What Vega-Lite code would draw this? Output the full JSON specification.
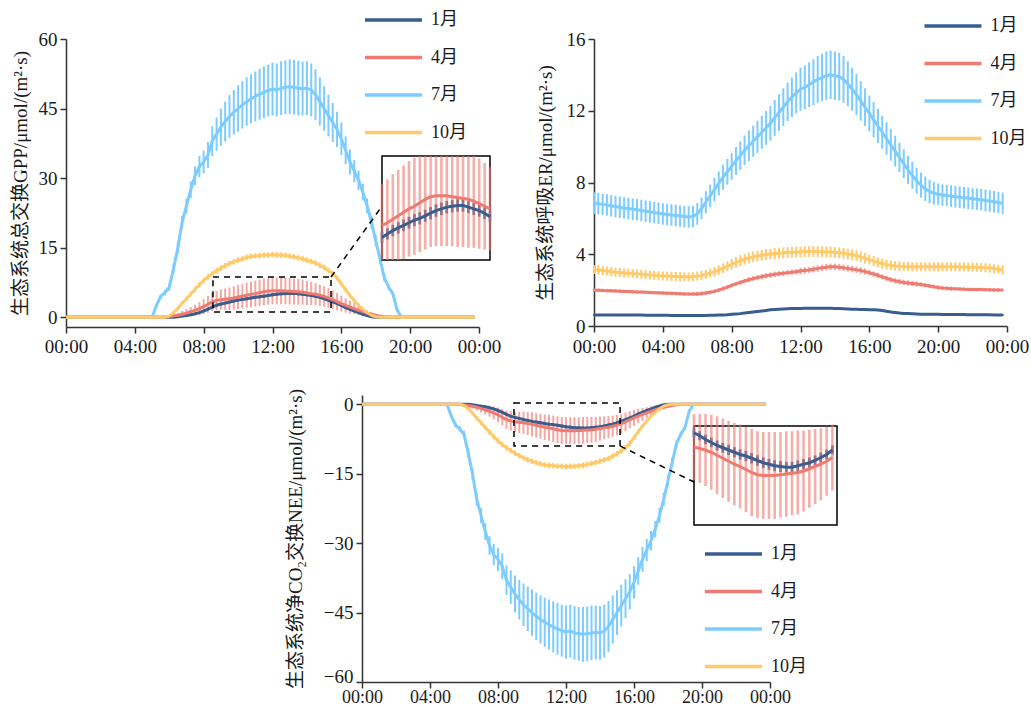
{
"$schema": "https://vega.github.io/schema/vega-lite/v6.json",
"width": 1031, "height": 707, "autosize": {"type": "none"}, "padding": 0, "background": "white",
"config": {
 "view": {"stroke": null},
 "font": "Liberation Serif",
 "axis": {"grid": false, "domainColor": "#333333", "domainWidth": 1.5, "tickColor": "#333333", "tickWidth": 1.5, "tickSize": 6, "labelFont": "Liberation Serif", "labelFontSize": 19, "labelColor": "#1a1a1a", "labelPadding": 3, "labelFlush": false, "labelOverlap": false, "labelBound": false, "titleFont": "Liberation Serif, DejaVu Serif, Noto Sans CJK SC", "titleFontSize": 19, "titleFontWeight": "normal", "titleColor": "#1a1a1a", "titleBaseline": "middle"},
 "legend": {"padding": 0, "symbolType": "M-3,0H3", "symbolSize": 361, "symbolStrokeWidth": 3.5, "symbolOffset": 19, "labelOffset": 26, "labelFont": "Liberation Serif, Noto Sans CJK SC", "labelFontSize": 18, "labelColor": "#1a1a1a", "rowPadding": 16.5, "symbolOpacity": 1}
},
"datasets": {
"gpp": [
{"m":1,"h":0,"v":0,"e":0},{"m":1,"h":6.25,"v":0,"e":0},{"m":1,"h":6.5,"v":0.1,"e":0.05},{"m":1,"h":6.75,"v":0.25,"e":0.1},{"m":1,"h":7,"v":0.4,"e":0.12},{"m":1,"h":7.25,"v":0.55,"e":0.15},{"m":1,"h":7.5,"v":0.75,"e":0.18},{"m":1,"h":7.75,"v":1,"e":0.2},{"m":1,"h":8,"v":1.35,"e":0.22},{"m":1,"h":8.25,"v":1.75,"e":0.25},{"m":1,"h":8.5,"v":2.2,"e":0.28},{"m":1,"h":8.75,"v":2.6,"e":0.3},{"m":1,"h":9,"v":2.85,"e":0.3},{"m":1,"h":9.25,"v":3.05,"e":0.3},{"m":1,"h":9.5,"v":3.3,"e":0.32},{"m":1,"h":9.75,"v":3.5,"e":0.32},{"m":1,"h":10,"v":3.7,"e":0.33},{"m":1,"h":10.25,"v":3.85,"e":0.33},{"m":1,"h":10.5,"v":4,"e":0.34},{"m":1,"h":10.75,"v":4.15,"e":0.34},{"m":1,"h":11,"v":4.3,"e":0.35},{"m":1,"h":11.25,"v":4.4,"e":0.35},{"m":1,"h":11.5,"v":4.55,"e":0.35},{"m":1,"h":11.75,"v":4.7,"e":0.35},{"m":1,"h":12,"v":4.85,"e":0.36},{"m":1,"h":12.25,"v":4.95,"e":0.36},{"m":1,"h":12.5,"v":5.05,"e":0.36},{"m":1,"h":12.75,"v":5.1,"e":0.36},{"m":1,"h":13,"v":5.15,"e":0.36},{"m":1,"h":13.25,"v":5.15,"e":0.36},{"m":1,"h":13.5,"v":5.05,"e":0.35},{"m":1,"h":13.75,"v":4.95,"e":0.35},{"m":1,"h":14,"v":4.85,"e":0.35},{"m":1,"h":14.25,"v":4.7,"e":0.34},{"m":1,"h":14.5,"v":4.5,"e":0.33},{"m":1,"h":14.75,"v":4.3,"e":0.32},{"m":1,"h":15,"v":4,"e":0.3},{"m":1,"h":15.25,"v":3.65,"e":0.28},{"m":1,"h":15.5,"v":3.3,"e":0.26},{"m":1,"h":15.75,"v":2.95,"e":0.24},{"m":1,"h":16,"v":2.55,"e":0.22},{"m":1,"h":16.25,"v":2.1,"e":0.2},{"m":1,"h":16.5,"v":1.7,"e":0.17},{"m":1,"h":16.75,"v":1.35,"e":0.14},{"m":1,"h":17,"v":1,"e":0.12},{"m":1,"h":17.25,"v":0.65,"e":0.1},{"m":1,"h":17.5,"v":0.35,"e":0.06},{"m":1,"h":17.75,"v":0.12,"e":0.03},{"m":1,"h":18,"v":0,"e":0},{"m":1,"h":23.75,"v":0,"e":0},
{"m":4,"h":0,"v":0,"e":0},{"m":4,"h":5.5,"v":0,"e":0},{"m":4,"h":5.75,"v":0.05,"e":0.05},{"m":4,"h":6,"v":0.15,"e":0.2},{"m":4,"h":6.25,"v":0.3,"e":0.35},{"m":4,"h":6.5,"v":0.45,"e":0.5},{"m":4,"h":6.75,"v":0.65,"e":0.7},{"m":4,"h":7,"v":0.9,"e":0.85},{"m":4,"h":7.25,"v":1.2,"e":1},{"m":4,"h":7.5,"v":1.5,"e":1.2},{"m":4,"h":7.75,"v":1.85,"e":1.4},{"m":4,"h":8,"v":2.3,"e":1.6},{"m":4,"h":8.25,"v":2.8,"e":1.8},{"m":4,"h":8.5,"v":3.3,"e":2},{"m":4,"h":8.75,"v":3.6,"e":2.1},{"m":4,"h":9,"v":3.8,"e":2.2},{"m":4,"h":9.25,"v":3.9,"e":2.3},{"m":4,"h":9.5,"v":4,"e":2.4},{"m":4,"h":9.75,"v":4.15,"e":2.5},{"m":4,"h":10,"v":4.35,"e":2.6},{"m":4,"h":10.25,"v":4.55,"e":2.65},{"m":4,"h":10.5,"v":4.75,"e":2.7},{"m":4,"h":10.75,"v":4.95,"e":2.75},{"m":4,"h":11,"v":5.1,"e":2.8},{"m":4,"h":11.25,"v":5.3,"e":2.85},{"m":4,"h":11.5,"v":5.5,"e":2.9},{"m":4,"h":11.75,"v":5.65,"e":2.9},{"m":4,"h":12,"v":5.7,"e":2.9},{"m":4,"h":12.25,"v":5.7,"e":2.9},{"m":4,"h":12.5,"v":5.7,"e":2.9},{"m":4,"h":12.75,"v":5.65,"e":2.85},{"m":4,"h":13,"v":5.6,"e":2.85},{"m":4,"h":13.25,"v":5.55,"e":2.8},{"m":4,"h":13.5,"v":5.5,"e":2.8},{"m":4,"h":13.75,"v":5.4,"e":2.7},{"m":4,"h":14,"v":5.25,"e":2.6},{"m":4,"h":14.25,"v":5.1,"e":2.5},{"m":4,"h":14.5,"v":4.95,"e":2.4},{"m":4,"h":14.75,"v":4.75,"e":2.3},{"m":4,"h":15,"v":4.5,"e":2.2},{"m":4,"h":15.25,"v":4.2,"e":2.1},{"m":4,"h":15.5,"v":3.8,"e":2},{"m":4,"h":15.75,"v":3.35,"e":1.85},{"m":4,"h":16,"v":2.95,"e":1.7},{"m":4,"h":16.25,"v":2.55,"e":1.55},{"m":4,"h":16.5,"v":2.2,"e":1.4},{"m":4,"h":16.75,"v":1.85,"e":1.2},{"m":4,"h":17,"v":1.5,"e":1},{"m":4,"h":17.25,"v":1.2,"e":0.8},{"m":4,"h":17.5,"v":0.9,"e":0.6},{"m":4,"h":17.75,"v":0.65,"e":0.45},{"m":4,"h":18,"v":0.45,"e":0.3},{"m":4,"h":18.25,"v":0.25,"e":0.2},{"m":4,"h":18.5,"v":0.12,"e":0.1},{"m":4,"h":18.75,"v":0.05,"e":0.05},{"m":4,"h":19,"v":0,"e":0},{"m":4,"h":23.75,"v":0,"e":0},
{"m":7,"h":0,"v":0,"e":0},{"m":7,"h":5,"v":0,"e":0},{"m":7,"h":5.25,"v":2.5,"e":0.3},{"m":7,"h":5.5,"v":4.5,"e":0.5},{"m":7,"h":5.75,"v":5.3,"e":0.6},{"m":7,"h":6,"v":6.5,"e":0.8},{"m":7,"h":6.25,"v":10.5,"e":1},{"m":7,"h":6.5,"v":15,"e":1.2},{"m":7,"h":6.75,"v":20.5,"e":1.4},{"m":7,"h":7,"v":24,"e":1.6},{"m":7,"h":7.25,"v":27.5,"e":1.8},{"m":7,"h":7.5,"v":30.5,"e":2},{"m":7,"h":7.75,"v":32.5,"e":2.3},{"m":7,"h":8,"v":33.5,"e":2.5},{"m":7,"h":8.25,"v":35,"e":2.8},{"m":7,"h":8.5,"v":38,"e":3.2},{"m":7,"h":8.75,"v":39.5,"e":3.6},{"m":7,"h":9,"v":41,"e":4},{"m":7,"h":9.25,"v":42.2,"e":4.3},{"m":7,"h":9.5,"v":43.3,"e":4.6},{"m":7,"h":9.75,"v":44.2,"e":4.8},{"m":7,"h":10,"v":45,"e":5},{"m":7,"h":10.25,"v":45.8,"e":5.1},{"m":7,"h":10.5,"v":46.5,"e":5.2},{"m":7,"h":10.75,"v":47.1,"e":5.3},{"m":7,"h":11,"v":47.6,"e":5.4},{"m":7,"h":11.25,"v":48.1,"e":5.5},{"m":7,"h":11.5,"v":48.5,"e":5.6},{"m":7,"h":11.75,"v":48.9,"e":5.6},{"m":7,"h":12,"v":49.2,"e":5.7},{"m":7,"h":12.25,"v":49,"e":5.7},{"m":7,"h":12.5,"v":49.4,"e":5.8},{"m":7,"h":12.75,"v":49.6,"e":5.8},{"m":7,"h":13,"v":49.7,"e":5.9},{"m":7,"h":13.25,"v":49.6,"e":5.9},{"m":7,"h":13.5,"v":49.4,"e":5.9},{"m":7,"h":13.75,"v":49.3,"e":5.8},{"m":7,"h":14,"v":49.4,"e":5.8},{"m":7,"h":14.25,"v":49,"e":5.7},{"m":7,"h":14.5,"v":48,"e":5.5},{"m":7,"h":14.75,"v":46.5,"e":5.2},{"m":7,"h":15,"v":45,"e":4.8},{"m":7,"h":15.25,"v":43.5,"e":4.5},{"m":7,"h":15.5,"v":42,"e":4.2},{"m":7,"h":15.75,"v":40.5,"e":3.8},{"m":7,"h":16,"v":38.5,"e":3.5},{"m":7,"h":16.25,"v":36,"e":3},{"m":7,"h":16.5,"v":33.5,"e":2.7},{"m":7,"h":16.75,"v":31.5,"e":2.4},{"m":7,"h":17,"v":29.5,"e":2.1},{"m":7,"h":17.25,"v":27,"e":1.8},{"m":7,"h":17.5,"v":24,"e":1.6},{"m":7,"h":17.75,"v":20.5,"e":1.4},{"m":7,"h":18,"v":16.5,"e":1.2},{"m":7,"h":18.25,"v":12.5,"e":1},{"m":7,"h":18.5,"v":8.5,"e":0.8},{"m":7,"h":18.75,"v":6.5,"e":0.6},{"m":7,"h":19,"v":5,"e":0.5},{"m":7,"h":19.25,"v":1.5,"e":0.2},{"m":7,"h":19.5,"v":0,"e":0},{"m":7,"h":23.75,"v":0,"e":0},
{"m":10,"h":0,"v":0,"e":0},{"m":10,"h":5.75,"v":0,"e":0},{"m":10,"h":6,"v":0.3,"e":0.2},{"m":10,"h":6.25,"v":1,"e":0.3},{"m":10,"h":6.5,"v":1.9,"e":0.4},{"m":10,"h":6.75,"v":3,"e":0.45},{"m":10,"h":7,"v":4,"e":0.5},{"m":10,"h":7.25,"v":5,"e":0.55},{"m":10,"h":7.5,"v":6,"e":0.6},{"m":10,"h":7.75,"v":7,"e":0.6},{"m":10,"h":8,"v":7.9,"e":0.6},{"m":10,"h":8.25,"v":8.7,"e":0.6},{"m":10,"h":8.5,"v":9.4,"e":0.6},{"m":10,"h":8.75,"v":10,"e":0.6},{"m":10,"h":9,"v":10.6,"e":0.6},{"m":10,"h":9.25,"v":11.1,"e":0.6},{"m":10,"h":9.5,"v":11.6,"e":0.6},{"m":10,"h":9.75,"v":12,"e":0.6},{"m":10,"h":10,"v":12.3,"e":0.6},{"m":10,"h":10.25,"v":12.6,"e":0.6},{"m":10,"h":10.5,"v":12.9,"e":0.6},{"m":10,"h":10.75,"v":13.1,"e":0.6},{"m":10,"h":11,"v":13.2,"e":0.6},{"m":10,"h":11.25,"v":13.3,"e":0.6},{"m":10,"h":11.5,"v":13.4,"e":0.6},{"m":10,"h":11.75,"v":13.4,"e":0.6},{"m":10,"h":12,"v":13.5,"e":0.6},{"m":10,"h":12.25,"v":13.4,"e":0.6},{"m":10,"h":12.5,"v":13.4,"e":0.6},{"m":10,"h":12.75,"v":13.3,"e":0.6},{"m":10,"h":13,"v":13.2,"e":0.6},{"m":10,"h":13.25,"v":13,"e":0.6},{"m":10,"h":13.5,"v":12.8,"e":0.6},{"m":10,"h":13.75,"v":12.6,"e":0.6},{"m":10,"h":14,"v":12.3,"e":0.6},{"m":10,"h":14.25,"v":12,"e":0.6},{"m":10,"h":14.5,"v":11.7,"e":0.6},{"m":10,"h":14.75,"v":11.2,"e":0.6},{"m":10,"h":15,"v":10.7,"e":0.6},{"m":10,"h":15.25,"v":10.1,"e":0.6},{"m":10,"h":15.5,"v":9.4,"e":0.6},{"m":10,"h":15.75,"v":8.5,"e":0.55},{"m":10,"h":16,"v":7.2,"e":0.5},{"m":10,"h":16.25,"v":5.9,"e":0.5},{"m":10,"h":16.5,"v":4.7,"e":0.45},{"m":10,"h":16.75,"v":3.6,"e":0.4},{"m":10,"h":17,"v":2.6,"e":0.35},{"m":10,"h":17.25,"v":1.7,"e":0.3},{"m":10,"h":17.5,"v":1,"e":0.25},{"m":10,"h":17.75,"v":0.4,"e":0.2},{"m":10,"h":18,"v":0.1,"e":0.1},{"m":10,"h":18.25,"v":0,"e":0},{"m":10,"h":23.75,"v":0,"e":0}
],
"nee": [
{"m":1,"h":0,"v":0,"e":0},{"m":1,"h":6.25,"v":0,"e":0},{"m":1,"h":6.5,"v":-0.1,"e":0.05},{"m":1,"h":6.75,"v":-0.25,"e":0.1},{"m":1,"h":7,"v":-0.4,"e":0.12},{"m":1,"h":7.25,"v":-0.55,"e":0.15},{"m":1,"h":7.5,"v":-0.75,"e":0.18},{"m":1,"h":7.75,"v":-1,"e":0.2},{"m":1,"h":8,"v":-1.35,"e":0.22},{"m":1,"h":8.25,"v":-1.75,"e":0.25},{"m":1,"h":8.5,"v":-2.2,"e":0.28},{"m":1,"h":8.75,"v":-2.6,"e":0.3},{"m":1,"h":9,"v":-2.85,"e":0.3},{"m":1,"h":9.25,"v":-3.05,"e":0.3},{"m":1,"h":9.5,"v":-3.3,"e":0.32},{"m":1,"h":9.75,"v":-3.5,"e":0.32},{"m":1,"h":10,"v":-3.7,"e":0.33},{"m":1,"h":10.25,"v":-3.85,"e":0.33},{"m":1,"h":10.5,"v":-4,"e":0.34},{"m":1,"h":10.75,"v":-4.15,"e":0.34},{"m":1,"h":11,"v":-4.3,"e":0.35},{"m":1,"h":11.25,"v":-4.4,"e":0.35},{"m":1,"h":11.5,"v":-4.55,"e":0.35},{"m":1,"h":11.75,"v":-4.7,"e":0.35},{"m":1,"h":12,"v":-4.85,"e":0.36},{"m":1,"h":12.25,"v":-4.95,"e":0.36},{"m":1,"h":12.5,"v":-5.05,"e":0.36},{"m":1,"h":12.75,"v":-5.1,"e":0.36},{"m":1,"h":13,"v":-5.15,"e":0.36},{"m":1,"h":13.25,"v":-5.15,"e":0.36},{"m":1,"h":13.5,"v":-5.05,"e":0.35},{"m":1,"h":13.75,"v":-4.95,"e":0.35},{"m":1,"h":14,"v":-4.85,"e":0.35},{"m":1,"h":14.25,"v":-4.7,"e":0.34},{"m":1,"h":14.5,"v":-4.5,"e":0.33},{"m":1,"h":14.75,"v":-4.3,"e":0.32},{"m":1,"h":15,"v":-4,"e":0.3},{"m":1,"h":15.25,"v":-3.65,"e":0.28},{"m":1,"h":15.5,"v":-3.3,"e":0.26},{"m":1,"h":15.75,"v":-2.95,"e":0.24},{"m":1,"h":16,"v":-2.55,"e":0.22},{"m":1,"h":16.25,"v":-2.1,"e":0.2},{"m":1,"h":16.5,"v":-1.7,"e":0.17},{"m":1,"h":16.75,"v":-1.35,"e":0.14},{"m":1,"h":17,"v":-1,"e":0.12},{"m":1,"h":17.25,"v":-0.65,"e":0.1},{"m":1,"h":17.5,"v":-0.35,"e":0.06},{"m":1,"h":17.75,"v":-0.12,"e":0.03},{"m":1,"h":18,"v":0,"e":0},{"m":1,"h":23.75,"v":0,"e":0},
{"m":4,"h":0,"v":0,"e":0},{"m":4,"h":5.5,"v":0,"e":0},{"m":4,"h":5.75,"v":-0.05,"e":0.05},{"m":4,"h":6,"v":-0.15,"e":0.2},{"m":4,"h":6.25,"v":-0.3,"e":0.35},{"m":4,"h":6.5,"v":-0.45,"e":0.5},{"m":4,"h":6.75,"v":-0.65,"e":0.7},{"m":4,"h":7,"v":-0.9,"e":0.85},{"m":4,"h":7.25,"v":-1.2,"e":1},{"m":4,"h":7.5,"v":-1.5,"e":1.2},{"m":4,"h":7.75,"v":-1.85,"e":1.4},{"m":4,"h":8,"v":-2.3,"e":1.6},{"m":4,"h":8.25,"v":-2.8,"e":1.8},{"m":4,"h":8.5,"v":-3.3,"e":2},{"m":4,"h":8.75,"v":-3.6,"e":2.1},{"m":4,"h":9,"v":-3.8,"e":2.2},{"m":4,"h":9.25,"v":-3.9,"e":2.3},{"m":4,"h":9.5,"v":-4,"e":2.4},{"m":4,"h":9.75,"v":-4.15,"e":2.5},{"m":4,"h":10,"v":-4.35,"e":2.6},{"m":4,"h":10.25,"v":-4.55,"e":2.65},{"m":4,"h":10.5,"v":-4.75,"e":2.7},{"m":4,"h":10.75,"v":-4.95,"e":2.75},{"m":4,"h":11,"v":-5.1,"e":2.8},{"m":4,"h":11.25,"v":-5.3,"e":2.85},{"m":4,"h":11.5,"v":-5.5,"e":2.9},{"m":4,"h":11.75,"v":-5.65,"e":2.9},{"m":4,"h":12,"v":-5.7,"e":2.9},{"m":4,"h":12.25,"v":-5.7,"e":2.9},{"m":4,"h":12.5,"v":-5.7,"e":2.9},{"m":4,"h":12.75,"v":-5.65,"e":2.85},{"m":4,"h":13,"v":-5.6,"e":2.85},{"m":4,"h":13.25,"v":-5.55,"e":2.8},{"m":4,"h":13.5,"v":-5.5,"e":2.8},{"m":4,"h":13.75,"v":-5.4,"e":2.7},{"m":4,"h":14,"v":-5.25,"e":2.6},{"m":4,"h":14.25,"v":-5.1,"e":2.5},{"m":4,"h":14.5,"v":-4.95,"e":2.4},{"m":4,"h":14.75,"v":-4.75,"e":2.3},{"m":4,"h":15,"v":-4.5,"e":2.2},{"m":4,"h":15.25,"v":-4.2,"e":2.1},{"m":4,"h":15.5,"v":-3.8,"e":2},{"m":4,"h":15.75,"v":-3.35,"e":1.85},{"m":4,"h":16,"v":-2.95,"e":1.7},{"m":4,"h":16.25,"v":-2.55,"e":1.55},{"m":4,"h":16.5,"v":-2.2,"e":1.4},{"m":4,"h":16.75,"v":-1.85,"e":1.2},{"m":4,"h":17,"v":-1.5,"e":1},{"m":4,"h":17.25,"v":-1.2,"e":0.8},{"m":4,"h":17.5,"v":-0.9,"e":0.6},{"m":4,"h":17.75,"v":-0.65,"e":0.45},{"m":4,"h":18,"v":-0.45,"e":0.3},{"m":4,"h":18.25,"v":-0.25,"e":0.2},{"m":4,"h":18.5,"v":-0.12,"e":0.1},{"m":4,"h":18.75,"v":-0.05,"e":0.05},{"m":4,"h":19,"v":0,"e":0},{"m":4,"h":23.75,"v":0,"e":0},
{"m":7,"h":0,"v":0,"e":0},{"m":7,"h":5,"v":0,"e":0},{"m":7,"h":5.25,"v":-2.5,"e":0.3},{"m":7,"h":5.5,"v":-4.5,"e":0.5},{"m":7,"h":5.75,"v":-5.3,"e":0.6},{"m":7,"h":6,"v":-6.5,"e":0.8},{"m":7,"h":6.25,"v":-10.5,"e":1},{"m":7,"h":6.5,"v":-15,"e":1.2},{"m":7,"h":6.75,"v":-20.5,"e":1.4},{"m":7,"h":7,"v":-24,"e":1.6},{"m":7,"h":7.25,"v":-27.5,"e":1.8},{"m":7,"h":7.5,"v":-30.5,"e":2},{"m":7,"h":7.75,"v":-32.5,"e":2.3},{"m":7,"h":8,"v":-33.5,"e":2.5},{"m":7,"h":8.25,"v":-35,"e":2.8},{"m":7,"h":8.5,"v":-38,"e":3.2},{"m":7,"h":8.75,"v":-39.5,"e":3.6},{"m":7,"h":9,"v":-41,"e":4},{"m":7,"h":9.25,"v":-42.2,"e":4.3},{"m":7,"h":9.5,"v":-43.3,"e":4.6},{"m":7,"h":9.75,"v":-44.2,"e":4.8},{"m":7,"h":10,"v":-45,"e":5},{"m":7,"h":10.25,"v":-45.8,"e":5.1},{"m":7,"h":10.5,"v":-46.5,"e":5.2},{"m":7,"h":10.75,"v":-47.1,"e":5.3},{"m":7,"h":11,"v":-47.6,"e":5.4},{"m":7,"h":11.25,"v":-48.1,"e":5.5},{"m":7,"h":11.5,"v":-48.5,"e":5.6},{"m":7,"h":11.75,"v":-48.9,"e":5.6},{"m":7,"h":12,"v":-49.2,"e":5.7},{"m":7,"h":12.25,"v":-49,"e":5.7},{"m":7,"h":12.5,"v":-49.4,"e":5.8},{"m":7,"h":12.75,"v":-49.6,"e":5.8},{"m":7,"h":13,"v":-49.7,"e":5.9},{"m":7,"h":13.25,"v":-49.6,"e":5.9},{"m":7,"h":13.5,"v":-49.4,"e":5.9},{"m":7,"h":13.75,"v":-49.3,"e":5.8},{"m":7,"h":14,"v":-49.4,"e":5.8},{"m":7,"h":14.25,"v":-49,"e":5.7},{"m":7,"h":14.5,"v":-48,"e":5.5},{"m":7,"h":14.75,"v":-46.5,"e":5.2},{"m":7,"h":15,"v":-45,"e":4.8},{"m":7,"h":15.25,"v":-43.5,"e":4.5},{"m":7,"h":15.5,"v":-42,"e":4.2},{"m":7,"h":15.75,"v":-40.5,"e":3.8},{"m":7,"h":16,"v":-38.5,"e":3.5},{"m":7,"h":16.25,"v":-36,"e":3},{"m":7,"h":16.5,"v":-33.5,"e":2.7},{"m":7,"h":16.75,"v":-31.5,"e":2.4},{"m":7,"h":17,"v":-29.5,"e":2.1},{"m":7,"h":17.25,"v":-27,"e":1.8},{"m":7,"h":17.5,"v":-24,"e":1.6},{"m":7,"h":17.75,"v":-20.5,"e":1.4},{"m":7,"h":18,"v":-16.5,"e":1.2},{"m":7,"h":18.25,"v":-12.5,"e":1},{"m":7,"h":18.5,"v":-8.5,"e":0.8},{"m":7,"h":18.75,"v":-6.5,"e":0.6},{"m":7,"h":19,"v":-5,"e":0.5},{"m":7,"h":19.25,"v":-1.5,"e":0.2},{"m":7,"h":19.5,"v":0,"e":0},{"m":7,"h":23.75,"v":0,"e":0},
{"m":10,"h":0,"v":0,"e":0},{"m":10,"h":5.75,"v":0,"e":0},{"m":10,"h":6,"v":-0.3,"e":0.2},{"m":10,"h":6.25,"v":-1,"e":0.3},{"m":10,"h":6.5,"v":-1.9,"e":0.4},{"m":10,"h":6.75,"v":-3,"e":0.45},{"m":10,"h":7,"v":-4,"e":0.5},{"m":10,"h":7.25,"v":-5,"e":0.55},{"m":10,"h":7.5,"v":-6,"e":0.6},{"m":10,"h":7.75,"v":-7,"e":0.6},{"m":10,"h":8,"v":-7.9,"e":0.6},{"m":10,"h":8.25,"v":-8.7,"e":0.6},{"m":10,"h":8.5,"v":-9.4,"e":0.6},{"m":10,"h":8.75,"v":-10,"e":0.6},{"m":10,"h":9,"v":-10.6,"e":0.6},{"m":10,"h":9.25,"v":-11.1,"e":0.6},{"m":10,"h":9.5,"v":-11.6,"e":0.6},{"m":10,"h":9.75,"v":-12,"e":0.6},{"m":10,"h":10,"v":-12.3,"e":0.6},{"m":10,"h":10.25,"v":-12.6,"e":0.6},{"m":10,"h":10.5,"v":-12.9,"e":0.6},{"m":10,"h":10.75,"v":-13.1,"e":0.6},{"m":10,"h":11,"v":-13.2,"e":0.6},{"m":10,"h":11.25,"v":-13.3,"e":0.6},{"m":10,"h":11.5,"v":-13.4,"e":0.6},{"m":10,"h":11.75,"v":-13.4,"e":0.6},{"m":10,"h":12,"v":-13.5,"e":0.6},{"m":10,"h":12.25,"v":-13.4,"e":0.6},{"m":10,"h":12.5,"v":-13.4,"e":0.6},{"m":10,"h":12.75,"v":-13.3,"e":0.6},{"m":10,"h":13,"v":-13.2,"e":0.6},{"m":10,"h":13.25,"v":-13,"e":0.6},{"m":10,"h":13.5,"v":-12.8,"e":0.6},{"m":10,"h":13.75,"v":-12.6,"e":0.6},{"m":10,"h":14,"v":-12.3,"e":0.6},{"m":10,"h":14.25,"v":-12,"e":0.6},{"m":10,"h":14.5,"v":-11.7,"e":0.6},{"m":10,"h":14.75,"v":-11.2,"e":0.6},{"m":10,"h":15,"v":-10.7,"e":0.6},{"m":10,"h":15.25,"v":-10.1,"e":0.6},{"m":10,"h":15.5,"v":-9.4,"e":0.6},{"m":10,"h":15.75,"v":-8.5,"e":0.55},{"m":10,"h":16,"v":-7.2,"e":0.5},{"m":10,"h":16.25,"v":-5.9,"e":0.5},{"m":10,"h":16.5,"v":-4.7,"e":0.45},{"m":10,"h":16.75,"v":-3.6,"e":0.4},{"m":10,"h":17,"v":-2.6,"e":0.35},{"m":10,"h":17.25,"v":-1.7,"e":0.3},{"m":10,"h":17.5,"v":-1,"e":0.25},{"m":10,"h":17.75,"v":-0.4,"e":0.2},{"m":10,"h":18,"v":-0.1,"e":0.1},{"m":10,"h":18.25,"v":0,"e":0},{"m":10,"h":23.75,"v":0,"e":0}
],
"er": [
{"m":1,"h":0,"v":0.62,"e":0.05},{"m":1,"h":0.25,"v":0.62,"e":0.05},{"m":1,"h":0.5,"v":0.62,"e":0.05},{"m":1,"h":0.75,"v":0.62,"e":0.05},{"m":1,"h":1,"v":0.62,"e":0.05},{"m":1,"h":1.25,"v":0.62,"e":0.05},{"m":1,"h":1.5,"v":0.61,"e":0.05},{"m":1,"h":1.75,"v":0.61,"e":0.05},{"m":1,"h":2,"v":0.61,"e":0.05},{"m":1,"h":2.25,"v":0.61,"e":0.05},{"m":1,"h":2.5,"v":0.61,"e":0.05},{"m":1,"h":2.75,"v":0.61,"e":0.05},{"m":1,"h":3,"v":0.6,"e":0.05},{"m":1,"h":3.25,"v":0.6,"e":0.05},{"m":1,"h":3.5,"v":0.6,"e":0.05},{"m":1,"h":3.75,"v":0.6,"e":0.05},{"m":1,"h":4,"v":0.6,"e":0.05},{"m":1,"h":4.25,"v":0.6,"e":0.05},{"m":1,"h":4.5,"v":0.59,"e":0.05},{"m":1,"h":4.75,"v":0.59,"e":0.05},{"m":1,"h":5,"v":0.59,"e":0.05},{"m":1,"h":5.25,"v":0.59,"e":0.05},{"m":1,"h":5.5,"v":0.59,"e":0.05},{"m":1,"h":5.75,"v":0.59,"e":0.05},{"m":1,"h":6,"v":0.59,"e":0.05},{"m":1,"h":6.25,"v":0.59,"e":0.05},{"m":1,"h":6.5,"v":0.59,"e":0.05},{"m":1,"h":6.75,"v":0.6,"e":0.05},{"m":1,"h":7,"v":0.6,"e":0.05},{"m":1,"h":7.25,"v":0.61,"e":0.05},{"m":1,"h":7.5,"v":0.62,"e":0.05},{"m":1,"h":7.75,"v":0.63,"e":0.05},{"m":1,"h":8,"v":0.65,"e":0.05},{"m":1,"h":8.25,"v":0.67,"e":0.05},{"m":1,"h":8.5,"v":0.69,"e":0.05},{"m":1,"h":8.75,"v":0.72,"e":0.05},{"m":1,"h":9,"v":0.75,"e":0.05},{"m":1,"h":9.25,"v":0.78,"e":0.05},{"m":1,"h":9.5,"v":0.81,"e":0.05},{"m":1,"h":9.75,"v":0.84,"e":0.05},{"m":1,"h":10,"v":0.87,"e":0.05},{"m":1,"h":10.25,"v":0.9,"e":0.05},{"m":1,"h":10.5,"v":0.92,"e":0.05},{"m":1,"h":10.75,"v":0.94,"e":0.05},{"m":1,"h":11,"v":0.95,"e":0.05},{"m":1,"h":11.25,"v":0.96,"e":0.05},{"m":1,"h":11.5,"v":0.97,"e":0.05},{"m":1,"h":11.75,"v":0.98,"e":0.05},{"m":1,"h":12,"v":0.98,"e":0.05},{"m":1,"h":12.25,"v":0.99,"e":0.05},{"m":1,"h":12.5,"v":0.99,"e":0.05},{"m":1,"h":12.75,"v":0.99,"e":0.05},{"m":1,"h":13,"v":0.99,"e":0.05},{"m":1,"h":13.25,"v":0.99,"e":0.05},{"m":1,"h":13.5,"v":0.99,"e":0.05},{"m":1,"h":13.75,"v":0.99,"e":0.05},{"m":1,"h":14,"v":0.98,"e":0.05},{"m":1,"h":14.25,"v":0.97,"e":0.05},{"m":1,"h":14.5,"v":0.96,"e":0.05},{"m":1,"h":14.75,"v":0.95,"e":0.05},{"m":1,"h":15,"v":0.94,"e":0.05},{"m":1,"h":15.25,"v":0.93,"e":0.05},{"m":1,"h":15.5,"v":0.92,"e":0.05},{"m":1,"h":15.75,"v":0.92,"e":0.05},{"m":1,"h":16,"v":0.91,"e":0.05},{"m":1,"h":16.25,"v":0.9,"e":0.05},{"m":1,"h":16.5,"v":0.89,"e":0.05},{"m":1,"h":16.75,"v":0.86,"e":0.05},{"m":1,"h":17,"v":0.82,"e":0.05},{"m":1,"h":17.25,"v":0.78,"e":0.05},{"m":1,"h":17.5,"v":0.75,"e":0.05},{"m":1,"h":17.75,"v":0.72,"e":0.05},{"m":1,"h":18,"v":0.7,"e":0.05},{"m":1,"h":18.25,"v":0.69,"e":0.05},{"m":1,"h":18.5,"v":0.68,"e":0.05},{"m":1,"h":18.75,"v":0.67,"e":0.05},{"m":1,"h":19,"v":0.66,"e":0.05},{"m":1,"h":19.25,"v":0.66,"e":0.05},{"m":1,"h":19.5,"v":0.65,"e":0.05},{"m":1,"h":19.75,"v":0.65,"e":0.05},{"m":1,"h":20,"v":0.65,"e":0.05},{"m":1,"h":20.25,"v":0.64,"e":0.05},{"m":1,"h":20.5,"v":0.64,"e":0.05},{"m":1,"h":20.75,"v":0.64,"e":0.05},{"m":1,"h":21,"v":0.64,"e":0.05},{"m":1,"h":21.25,"v":0.64,"e":0.05},{"m":1,"h":21.5,"v":0.64,"e":0.05},{"m":1,"h":21.75,"v":0.63,"e":0.05},{"m":1,"h":22,"v":0.63,"e":0.05},{"m":1,"h":22.25,"v":0.63,"e":0.05},{"m":1,"h":22.5,"v":0.63,"e":0.05},{"m":1,"h":22.75,"v":0.63,"e":0.05},{"m":1,"h":23,"v":0.63,"e":0.05},{"m":1,"h":23.25,"v":0.62,"e":0.05},{"m":1,"h":23.5,"v":0.62,"e":0.05},{"m":1,"h":23.75,"v":0.62,"e":0.05},
{"m":4,"h":0,"v":2,"e":0.1},{"m":4,"h":0.25,"v":1.99,"e":0.1},{"m":4,"h":0.5,"v":1.98,"e":0.1},{"m":4,"h":0.75,"v":1.97,"e":0.1},{"m":4,"h":1,"v":1.96,"e":0.1},{"m":4,"h":1.25,"v":1.95,"e":0.1},{"m":4,"h":1.5,"v":1.94,"e":0.1},{"m":4,"h":1.75,"v":1.93,"e":0.1},{"m":4,"h":2,"v":1.92,"e":0.1},{"m":4,"h":2.25,"v":1.91,"e":0.1},{"m":4,"h":2.5,"v":1.9,"e":0.1},{"m":4,"h":2.75,"v":1.89,"e":0.1},{"m":4,"h":3,"v":1.88,"e":0.1},{"m":4,"h":3.25,"v":1.87,"e":0.1},{"m":4,"h":3.5,"v":1.86,"e":0.1},{"m":4,"h":3.75,"v":1.85,"e":0.1},{"m":4,"h":4,"v":1.84,"e":0.1},{"m":4,"h":4.25,"v":1.83,"e":0.1},{"m":4,"h":4.5,"v":1.82,"e":0.1},{"m":4,"h":4.75,"v":1.81,"e":0.1},{"m":4,"h":5,"v":1.8,"e":0.1},{"m":4,"h":5.25,"v":1.79,"e":0.1},{"m":4,"h":5.5,"v":1.78,"e":0.1},{"m":4,"h":5.75,"v":1.78,"e":0.1},{"m":4,"h":6,"v":1.79,"e":0.12},{"m":4,"h":6.25,"v":1.81,"e":0.12},{"m":4,"h":6.5,"v":1.84,"e":0.12},{"m":4,"h":6.75,"v":1.88,"e":0.12},{"m":4,"h":7,"v":1.93,"e":0.12},{"m":4,"h":7.25,"v":2,"e":0.12},{"m":4,"h":7.5,"v":2.08,"e":0.12},{"m":4,"h":7.75,"v":2.17,"e":0.12},{"m":4,"h":8,"v":2.26,"e":0.12},{"m":4,"h":8.25,"v":2.35,"e":0.12},{"m":4,"h":8.5,"v":2.43,"e":0.12},{"m":4,"h":8.75,"v":2.51,"e":0.12},{"m":4,"h":9,"v":2.58,"e":0.15},{"m":4,"h":9.25,"v":2.64,"e":0.15},{"m":4,"h":9.5,"v":2.7,"e":0.15},{"m":4,"h":9.75,"v":2.75,"e":0.15},{"m":4,"h":10,"v":2.8,"e":0.15},{"m":4,"h":10.25,"v":2.84,"e":0.15},{"m":4,"h":10.5,"v":2.88,"e":0.15},{"m":4,"h":10.75,"v":2.91,"e":0.15},{"m":4,"h":11,"v":2.94,"e":0.15},{"m":4,"h":11.25,"v":2.97,"e":0.15},{"m":4,"h":11.5,"v":3,"e":0.15},{"m":4,"h":11.75,"v":3.03,"e":0.15},{"m":4,"h":12,"v":3.06,"e":0.18},{"m":4,"h":12.25,"v":3.09,"e":0.18},{"m":4,"h":12.5,"v":3.12,"e":0.18},{"m":4,"h":12.75,"v":3.16,"e":0.18},{"m":4,"h":13,"v":3.2,"e":0.18},{"m":4,"h":13.25,"v":3.24,"e":0.18},{"m":4,"h":13.5,"v":3.28,"e":0.18},{"m":4,"h":13.75,"v":3.3,"e":0.18},{"m":4,"h":14,"v":3.3,"e":0.18},{"m":4,"h":14.25,"v":3.28,"e":0.18},{"m":4,"h":14.5,"v":3.25,"e":0.18},{"m":4,"h":14.75,"v":3.21,"e":0.18},{"m":4,"h":15,"v":3.17,"e":0.18},{"m":4,"h":15.25,"v":3.13,"e":0.18},{"m":4,"h":15.5,"v":3.09,"e":0.18},{"m":4,"h":15.75,"v":3.03,"e":0.18},{"m":4,"h":16,"v":2.97,"e":0.15},{"m":4,"h":16.25,"v":2.9,"e":0.15},{"m":4,"h":16.5,"v":2.82,"e":0.15},{"m":4,"h":16.75,"v":2.74,"e":0.15},{"m":4,"h":17,"v":2.66,"e":0.15},{"m":4,"h":17.25,"v":2.58,"e":0.15},{"m":4,"h":17.5,"v":2.52,"e":0.15},{"m":4,"h":17.75,"v":2.47,"e":0.15},{"m":4,"h":18,"v":2.43,"e":0.15},{"m":4,"h":18.25,"v":2.4,"e":0.15},{"m":4,"h":18.5,"v":2.37,"e":0.15},{"m":4,"h":18.75,"v":2.34,"e":0.15},{"m":4,"h":19,"v":2.31,"e":0.12},{"m":4,"h":19.25,"v":2.27,"e":0.12},{"m":4,"h":19.5,"v":2.23,"e":0.12},{"m":4,"h":19.75,"v":2.19,"e":0.12},{"m":4,"h":20,"v":2.15,"e":0.12},{"m":4,"h":20.25,"v":2.12,"e":0.12},{"m":4,"h":20.5,"v":2.1,"e":0.12},{"m":4,"h":20.75,"v":2.08,"e":0.12},{"m":4,"h":21,"v":2.07,"e":0.1},{"m":4,"h":21.25,"v":2.06,"e":0.1},{"m":4,"h":21.5,"v":2.05,"e":0.1},{"m":4,"h":21.75,"v":2.04,"e":0.1},{"m":4,"h":22,"v":2.04,"e":0.1},{"m":4,"h":22.25,"v":2.03,"e":0.1},{"m":4,"h":22.5,"v":2.03,"e":0.1},{"m":4,"h":22.75,"v":2.02,"e":0.1},{"m":4,"h":23,"v":2.02,"e":0.1},{"m":4,"h":23.25,"v":2.01,"e":0.1},{"m":4,"h":23.5,"v":2.01,"e":0.1},{"m":4,"h":23.75,"v":2,"e":0.1},
{"m":7,"h":0,"v":6.85,"e":0.6},{"m":7,"h":0.25,"v":6.82,"e":0.6},{"m":7,"h":0.5,"v":6.78,"e":0.6},{"m":7,"h":0.75,"v":6.75,"e":0.6},{"m":7,"h":1,"v":6.7,"e":0.6},{"m":7,"h":1.25,"v":6.66,"e":0.6},{"m":7,"h":1.5,"v":6.62,"e":0.6},{"m":7,"h":1.75,"v":6.58,"e":0.6},{"m":7,"h":2,"v":6.55,"e":0.6},{"m":7,"h":2.25,"v":6.51,"e":0.6},{"m":7,"h":2.5,"v":6.48,"e":0.6},{"m":7,"h":2.75,"v":6.44,"e":0.6},{"m":7,"h":3,"v":6.4,"e":0.6},{"m":7,"h":3.25,"v":6.36,"e":0.6},{"m":7,"h":3.5,"v":6.32,"e":0.6},{"m":7,"h":3.75,"v":6.28,"e":0.6},{"m":7,"h":4,"v":6.25,"e":0.6},{"m":7,"h":4.25,"v":6.22,"e":0.6},{"m":7,"h":4.5,"v":6.19,"e":0.6},{"m":7,"h":4.75,"v":6.16,"e":0.6},{"m":7,"h":5,"v":6.13,"e":0.6},{"m":7,"h":5.25,"v":6.1,"e":0.6},{"m":7,"h":5.5,"v":6.08,"e":0.6},{"m":7,"h":5.75,"v":6.1,"e":0.6},{"m":7,"h":6,"v":6.25,"e":0.6},{"m":7,"h":6.25,"v":6.55,"e":0.6},{"m":7,"h":6.5,"v":6.9,"e":0.62},{"m":7,"h":6.75,"v":7.25,"e":0.63},{"m":7,"h":7,"v":7.6,"e":0.65},{"m":7,"h":7.25,"v":7.95,"e":0.67},{"m":7,"h":7.5,"v":8.3,"e":0.7},{"m":7,"h":7.75,"v":8.6,"e":0.72},{"m":7,"h":8,"v":8.9,"e":0.75},{"m":7,"h":8.25,"v":9.2,"e":0.77},{"m":7,"h":8.5,"v":9.5,"e":0.8},{"m":7,"h":8.75,"v":9.8,"e":0.82},{"m":7,"h":9,"v":10.05,"e":0.85},{"m":7,"h":9.25,"v":10.3,"e":0.87},{"m":7,"h":9.5,"v":10.55,"e":0.9},{"m":7,"h":9.75,"v":10.8,"e":0.92},{"m":7,"h":10,"v":11.05,"e":0.95},{"m":7,"h":10.25,"v":11.3,"e":0.97},{"m":7,"h":10.5,"v":11.6,"e":1},{"m":7,"h":10.75,"v":11.9,"e":1.02},{"m":7,"h":11,"v":12.2,"e":1.05},{"m":7,"h":11.25,"v":12.5,"e":1.08},{"m":7,"h":11.5,"v":12.75,"e":1.1},{"m":7,"h":11.75,"v":13,"e":1.15},{"m":7,"h":12,"v":13.2,"e":1.2},{"m":7,"h":12.25,"v":13.3,"e":1.22},{"m":7,"h":12.5,"v":13.45,"e":1.25},{"m":7,"h":12.75,"v":13.6,"e":1.28},{"m":7,"h":13,"v":13.75,"e":1.3},{"m":7,"h":13.25,"v":13.85,"e":1.32},{"m":7,"h":13.5,"v":13.95,"e":1.35},{"m":7,"h":13.75,"v":14,"e":1.35},{"m":7,"h":14,"v":13.95,"e":1.35},{"m":7,"h":14.25,"v":13.9,"e":1.33},{"m":7,"h":14.5,"v":13.75,"e":1.3},{"m":7,"h":14.75,"v":13.5,"e":1.25},{"m":7,"h":15,"v":13.2,"e":1.2},{"m":7,"h":15.25,"v":12.9,"e":1.15},{"m":7,"h":15.5,"v":12.55,"e":1.1},{"m":7,"h":15.75,"v":12.2,"e":1.05},{"m":7,"h":16,"v":11.85,"e":1},{"m":7,"h":16.25,"v":11.5,"e":0.98},{"m":7,"h":16.5,"v":11.15,"e":0.95},{"m":7,"h":16.75,"v":10.8,"e":0.92},{"m":7,"h":17,"v":10.45,"e":0.9},{"m":7,"h":17.25,"v":10.1,"e":0.88},{"m":7,"h":17.5,"v":9.75,"e":0.85},{"m":7,"h":17.75,"v":9.4,"e":0.82},{"m":7,"h":18,"v":9.05,"e":0.8},{"m":7,"h":18.25,"v":8.7,"e":0.78},{"m":7,"h":18.5,"v":8.4,"e":0.75},{"m":7,"h":18.75,"v":8.1,"e":0.72},{"m":7,"h":19,"v":7.85,"e":0.7},{"m":7,"h":19.25,"v":7.65,"e":0.68},{"m":7,"h":19.5,"v":7.5,"e":0.65},{"m":7,"h":19.75,"v":7.4,"e":0.63},{"m":7,"h":20,"v":7.35,"e":0.6},{"m":7,"h":20.25,"v":7.3,"e":0.6},{"m":7,"h":20.5,"v":7.27,"e":0.6},{"m":7,"h":20.75,"v":7.24,"e":0.6},{"m":7,"h":21,"v":7.2,"e":0.6},{"m":7,"h":21.25,"v":7.18,"e":0.6},{"m":7,"h":21.5,"v":7.15,"e":0.6},{"m":7,"h":21.75,"v":7.12,"e":0.6},{"m":7,"h":22,"v":7.1,"e":0.6},{"m":7,"h":22.25,"v":7.07,"e":0.6},{"m":7,"h":22.5,"v":7.04,"e":0.6},{"m":7,"h":22.75,"v":7,"e":0.6},{"m":7,"h":23,"v":6.97,"e":0.6},{"m":7,"h":23.25,"v":6.93,"e":0.6},{"m":7,"h":23.5,"v":6.88,"e":0.6},{"m":7,"h":23.75,"v":6.83,"e":0.6},
{"m":10,"h":0,"v":3.15,"e":0.25},{"m":10,"h":0.25,"v":3.12,"e":0.25},{"m":10,"h":0.5,"v":3.09,"e":0.25},{"m":10,"h":0.75,"v":3.06,"e":0.25},{"m":10,"h":1,"v":3.03,"e":0.25},{"m":10,"h":1.25,"v":3,"e":0.25},{"m":10,"h":1.5,"v":2.98,"e":0.25},{"m":10,"h":1.75,"v":2.96,"e":0.25},{"m":10,"h":2,"v":2.94,"e":0.25},{"m":10,"h":2.25,"v":2.92,"e":0.25},{"m":10,"h":2.5,"v":2.9,"e":0.25},{"m":10,"h":2.75,"v":2.88,"e":0.25},{"m":10,"h":3,"v":2.86,"e":0.25},{"m":10,"h":3.25,"v":2.84,"e":0.25},{"m":10,"h":3.5,"v":2.82,"e":0.25},{"m":10,"h":3.75,"v":2.8,"e":0.25},{"m":10,"h":4,"v":2.79,"e":0.25},{"m":10,"h":4.25,"v":2.78,"e":0.25},{"m":10,"h":4.5,"v":2.77,"e":0.25},{"m":10,"h":4.75,"v":2.76,"e":0.25},{"m":10,"h":5,"v":2.75,"e":0.25},{"m":10,"h":5.25,"v":2.74,"e":0.25},{"m":10,"h":5.5,"v":2.74,"e":0.25},{"m":10,"h":5.75,"v":2.75,"e":0.25},{"m":10,"h":6,"v":2.78,"e":0.25},{"m":10,"h":6.25,"v":2.82,"e":0.25},{"m":10,"h":6.5,"v":2.88,"e":0.25},{"m":10,"h":6.75,"v":2.95,"e":0.25},{"m":10,"h":7,"v":3.03,"e":0.27},{"m":10,"h":7.25,"v":3.12,"e":0.27},{"m":10,"h":7.5,"v":3.22,"e":0.27},{"m":10,"h":7.75,"v":3.33,"e":0.27},{"m":10,"h":8,"v":3.44,"e":0.3},{"m":10,"h":8.25,"v":3.55,"e":0.3},{"m":10,"h":8.5,"v":3.64,"e":0.3},{"m":10,"h":8.75,"v":3.72,"e":0.3},{"m":10,"h":9,"v":3.79,"e":0.3},{"m":10,"h":9.25,"v":3.85,"e":0.3},{"m":10,"h":9.5,"v":3.9,"e":0.3},{"m":10,"h":9.75,"v":3.94,"e":0.3},{"m":10,"h":10,"v":3.98,"e":0.3},{"m":10,"h":10.25,"v":4.01,"e":0.3},{"m":10,"h":10.5,"v":4.04,"e":0.3},{"m":10,"h":10.75,"v":4.06,"e":0.3},{"m":10,"h":11,"v":4.08,"e":0.3},{"m":10,"h":11.25,"v":4.1,"e":0.3},{"m":10,"h":11.5,"v":4.11,"e":0.3},{"m":10,"h":11.75,"v":4.12,"e":0.3},{"m":10,"h":12,"v":4.13,"e":0.3},{"m":10,"h":12.25,"v":4.14,"e":0.3},{"m":10,"h":12.5,"v":4.15,"e":0.3},{"m":10,"h":12.75,"v":4.15,"e":0.3},{"m":10,"h":13,"v":4.15,"e":0.3},{"m":10,"h":13.25,"v":4.14,"e":0.3},{"m":10,"h":13.5,"v":4.13,"e":0.3},{"m":10,"h":13.75,"v":4.12,"e":0.3},{"m":10,"h":14,"v":4.1,"e":0.3},{"m":10,"h":14.25,"v":4.08,"e":0.3},{"m":10,"h":14.5,"v":4.05,"e":0.3},{"m":10,"h":14.75,"v":4.01,"e":0.3},{"m":10,"h":15,"v":3.97,"e":0.3},{"m":10,"h":15.25,"v":3.92,"e":0.3},{"m":10,"h":15.5,"v":3.86,"e":0.3},{"m":10,"h":15.75,"v":3.78,"e":0.3},{"m":10,"h":16,"v":3.7,"e":0.28},{"m":10,"h":16.25,"v":3.62,"e":0.28},{"m":10,"h":16.5,"v":3.54,"e":0.28},{"m":10,"h":16.75,"v":3.47,"e":0.28},{"m":10,"h":17,"v":3.42,"e":0.27},{"m":10,"h":17.25,"v":3.38,"e":0.27},{"m":10,"h":17.5,"v":3.35,"e":0.27},{"m":10,"h":17.75,"v":3.33,"e":0.27},{"m":10,"h":18,"v":3.32,"e":0.25},{"m":10,"h":18.25,"v":3.31,"e":0.25},{"m":10,"h":18.5,"v":3.3,"e":0.25},{"m":10,"h":18.75,"v":3.3,"e":0.25},{"m":10,"h":19,"v":3.3,"e":0.25},{"m":10,"h":19.25,"v":3.3,"e":0.25},{"m":10,"h":19.5,"v":3.3,"e":0.25},{"m":10,"h":19.75,"v":3.3,"e":0.25},{"m":10,"h":20,"v":3.3,"e":0.25},{"m":10,"h":20.25,"v":3.3,"e":0.25},{"m":10,"h":20.5,"v":3.3,"e":0.25},{"m":10,"h":20.75,"v":3.3,"e":0.25},{"m":10,"h":21,"v":3.3,"e":0.25},{"m":10,"h":21.25,"v":3.29,"e":0.25},{"m":10,"h":21.5,"v":3.29,"e":0.25},{"m":10,"h":21.75,"v":3.28,"e":0.25},{"m":10,"h":22,"v":3.28,"e":0.25},{"m":10,"h":22.25,"v":3.27,"e":0.25},{"m":10,"h":22.5,"v":3.26,"e":0.25},{"m":10,"h":22.75,"v":3.25,"e":0.25},{"m":10,"h":23,"v":3.23,"e":0.25},{"m":10,"h":23.25,"v":3.2,"e":0.25},{"m":10,"h":23.5,"v":3.16,"e":0.25},{"m":10,"h":23.75,"v":3.12,"e":0.25}
]
},
"layer": [
 {"layer": [
  {"data": {"name": "gpp"},
   "encoding": {
    "x": {"field": "h", "type": "quantitative", "scale": {"domain": [0, 24], "range": [66, 479], "nice": false, "zero": false}, "axis": {"orient": "bottom", "offset": -380, "labelPadding": 4, "values": [0, 4, 8, 12, 16, 20, 24], "labelExpr": "(datum.value % 24 < 10 ? '0' : '') + (datum.value % 24) + ':00'", "title": null}},
    "y": {"field": "v", "type": "quantitative", "scale": {"domain": [-2.1, 60], "range": [327, 39], "nice": false, "zero": false}, "axis": {"orient": "left", "offset": -66, "values": [0, 15, 30, 45, 60], "title": "生态系统总交换GPP/μmol/(m²·s)", "titleX": -46, "titleY": 183}},
    "color": {"field": "m", "type": "nominal", "scale": {"domain": [1, 4, 7, 10], "range": ["#3A5D8F", "#EE7A70", "#7DCCFF", "#FFCA6A"]}, "legend": {"orient": "none", "legendX": 363, "legendY": 8.5, "title": null, "labelExpr": "datum.label + '月'"}}
   },
   "layer": [
    {"transform": [{"filter": "datum.m != 4"}], "mark": {"type": "errorbar", "thickness": 2}, "encoding": {"yError": {"field": "e"}}},
    {"transform": [{"filter": "datum.m == 4"}], "mark": {"type": "errorbar", "thickness": 2, "opacity": 0.65}, "encoding": {"yError": {"field": "e"}}},
    {"mark": {"type": "line", "strokeWidth": 3}}
   ]},
  {"data": {"values": [{"x0": 8.54, "x1": 15.4, "y0": 1.13, "y1": 8.68}]}, "mark": {"type": "rect", "fillOpacity": 0, "stroke": "black", "strokeWidth": 1.5, "strokeDash": [6, 5]}, "encoding": {"x": {"field": "x0", "type": "quantitative"}, "x2": {"field": "x1"}, "y": {"field": "y0", "type": "quantitative"}, "y2": {"field": "y1"}}},
  {"data": {"values": [{"x0": 15.4, "x1": 18.54, "y0": 8.68, "y1": 24.85}]}, "mark": {"type": "rule", "stroke": "black", "strokeWidth": 1.5, "strokeDash": [6, 5]}, "encoding": {"x": {"field": "x0", "type": "quantitative"}, "x2": {"field": "x1"}, "y": {"field": "y0", "type": "quantitative"}, "y2": {"field": "y1"}}}
 ]},
 {"layer": [
  {"data": {"values": [{"x0": 9.5, "x1": 14.5, "y0": 2, "y1": 8}]}, "mark": {"type": "rect", "fill": "white", "stroke": "black", "strokeWidth": 1.5}, "encoding": {"x": {"field": "x0", "type": "quantitative", "scale": {"domain": [9.5, 14.5], "range": [382, 490], "nice": false, "zero": false}, "axis": null}, "x2": {"field": "x1"}, "y": {"field": "y0", "type": "quantitative", "scale": {"domain": [2, 8], "range": [260, 156], "nice": false, "zero": false, "clamp": true}, "axis": null}, "y2": {"field": "y1"}}},
  {"data": {"name": "gpp"}, "transform": [{"filter": "(datum.m == 1 || datum.m == 4) && datum.h >= 9.5 && datum.h <= 14.5"}],
   "encoding": {
    "x": {"field": "h", "type": "quantitative", "scale": {"domain": [9.5, 14.5], "range": [382, 490], "nice": false, "zero": false}, "axis": null},
    "y": {"field": "v", "type": "quantitative", "scale": {"domain": [2, 8], "range": [260, 156], "nice": false, "zero": false, "clamp": true}, "axis": null},
    "color": {"field": "m", "type": "nominal", "scale": {"domain": [1, 4, 7, 10], "range": ["#3A5D8F", "#EE7A70", "#7DCCFF", "#FFCA6A"]}, "legend": null}
   },
   "layer": [
    {"transform": [{"filter": "datum.m != 4"}], "mark": {"type": "errorbar", "thickness": 2.6}, "encoding": {"yError": {"field": "e"}}},
    {"transform": [{"filter": "datum.m == 4"}], "mark": {"type": "errorbar", "thickness": 2.6, "opacity": 0.6}, "encoding": {"yError": {"field": "e"}}},
    {"mark": {"type": "line", "strokeWidth": 3}}
   ]}
 ]},
 {"data": {"name": "er"},
  "encoding": {
   "x": {"field": "h", "type": "quantitative", "scale": {"domain": [0, 24], "range": [594, 1007], "nice": false, "zero": false}, "axis": {"orient": "bottom", "offset": -381, "labelPadding": 5, "values": [0, 4, 8, 12, 16, 20, 24], "labelExpr": "(datum.value % 24 < 10 ? '0' : '') + (datum.value % 24) + ':00'", "title": null}},
   "y": {"field": "v", "type": "quantitative", "scale": {"domain": [0, 16], "range": [326, 39], "nice": false, "zero": false}, "axis": {"orient": "left", "offset": -594, "values": [0, 4, 8, 12, 16], "title": "生态系统呼吸ER/μmol/(m²·s)", "titleX": -49, "titleY": 182.5}},
   "color": {"field": "m", "type": "nominal", "scale": {"domain": [1, 4, 7, 10], "range": ["#3A5D8F", "#EE7A70", "#7DCCFF", "#FFCA6A"]}, "legend": {"orient": "none", "legendX": 922.5, "legendY": 14.5, "title": null, "labelExpr": "datum.label + '月'"}}
  },
  "layer": [
   {"transform": [{"filter": "datum.m != 4"}], "mark": {"type": "errorbar", "thickness": 2}, "encoding": {"yError": {"field": "e"}}},
   {"transform": [{"filter": "datum.m == 4"}], "mark": {"type": "errorbar", "thickness": 2, "opacity": 0.65}, "encoding": {"yError": {"field": "e"}}},
   {"mark": {"type": "line", "strokeWidth": 3}}
  ]},
 {"layer": [
  {"data": {"name": "nee"},
   "encoding": {
    "x": {"field": "h", "type": "quantitative", "scale": {"domain": [0, 24], "range": [362, 770], "nice": false, "zero": false}, "axis": {"orient": "bottom", "offset": -25, "labelPadding": 0, "labelFontSize": 18, "values": [0, 4, 8, 12, 16, 20, 24], "labelExpr": "(datum.value % 24 < 10 ? '0' : '') + (datum.value % 24) + ':00'", "title": null}},
    "y": {"field": "v", "type": "quantitative", "scale": {"domain": [-60, 2], "range": [682, 395], "nice": false, "zero": false}, "axis": {"orient": "left", "offset": -362, "values": [-60, -45, -30, -15, 0], "labelOffset": {"condition": {"test": "datum.value == -60", "value": -6}, "value": 0}, "title": "生态系统净CO₂交换NEE/μmol/(m²·s)", "titleX": -67, "titleY": 538.5}},
    "color": {"field": "m", "type": "nominal", "scale": {"domain": [1, 4, 7, 10], "range": ["#3A5D8F", "#EE7A70", "#7DCCFF", "#FFCA6A"]}, "legend": {"orient": "none", "legendX": 703, "legendY": 542.5, "title": null, "labelExpr": "datum.label + '月'"}}
   },
   "layer": [
    {"transform": [{"filter": "datum.m != 4"}], "mark": {"type": "errorbar", "thickness": 2}, "encoding": {"yError": {"field": "e"}}},
    {"transform": [{"filter": "datum.m == 4"}], "mark": {"type": "errorbar", "thickness": 2, "opacity": 0.65}, "encoding": {"yError": {"field": "e"}}},
    {"mark": {"type": "line", "strokeWidth": 3}}
   ]},
  {"data": {"values": [{"x0": 8.94, "x1": 15.18, "y0": -9.0, "y1": 0.28}]}, "mark": {"type": "rect", "fillOpacity": 0, "stroke": "black", "strokeWidth": 1.5, "strokeDash": [6, 5]}, "encoding": {"x": {"field": "x0", "type": "quantitative"}, "x2": {"field": "x1"}, "y": {"field": "y0", "type": "quantitative"}, "y2": {"field": "y1"}}},
  {"data": {"values": [{"x0": 15.18, "x1": 19.53, "y0": -9.0, "y1": -16.8}]}, "mark": {"type": "rule", "stroke": "black", "strokeWidth": 1.5, "strokeDash": [6, 5]}, "encoding": {"x": {"field": "x0", "type": "quantitative"}, "x2": {"field": "x1"}, "y": {"field": "y0", "type": "quantitative"}, "y2": {"field": "y1"}}}
 ]},
 {"layer": [
  {"data": {"values": [{"x0": 9.0, "x1": 15.2, "y0": -9.0, "y1": -2.4}]}, "mark": {"type": "rect", "fill": "white", "stroke": "black", "strokeWidth": 1.5}, "encoding": {"x": {"field": "x0", "type": "quantitative", "scale": {"domain": [9.0, 15.2], "range": [694, 837], "nice": false, "zero": false}, "axis": null}, "x2": {"field": "x1"}, "y": {"field": "y0", "type": "quantitative", "scale": {"domain": [-9.0, -2.4], "range": [525, 426], "nice": false, "zero": false}, "axis": null}, "y2": {"field": "y1"}}},
  {"data": {"name": "nee"}, "transform": [{"filter": "(datum.m == 1 || datum.m == 4) && datum.h >= 9 && datum.h <= 15.2"}],
   "encoding": {
    "x": {"field": "h", "type": "quantitative", "scale": {"domain": [9.0, 15.2], "range": [694, 837], "nice": false, "zero": false}, "axis": null},
    "y": {"field": "v", "type": "quantitative", "scale": {"domain": [-9.0, -2.4], "range": [525, 426], "nice": false, "zero": false}, "axis": null},
    "color": {"field": "m", "type": "nominal", "scale": {"domain": [1, 4, 7, 10], "range": ["#3A5D8F", "#EE7A70", "#7DCCFF", "#FFCA6A"]}, "legend": null}
   },
   "layer": [
    {"transform": [{"filter": "datum.m != 4"}], "mark": {"type": "errorbar", "thickness": 2.6}, "encoding": {"yError": {"field": "e"}}},
    {"transform": [{"filter": "datum.m == 4"}], "mark": {"type": "errorbar", "thickness": 2.6, "opacity": 0.6}, "encoding": {"yError": {"field": "e"}}},
    {"mark": {"type": "line", "strokeWidth": 3}}
   ]}
 ]}
],
"resolve": {"scale": {"x": "independent", "y": "independent", "color": "independent"}}
}
